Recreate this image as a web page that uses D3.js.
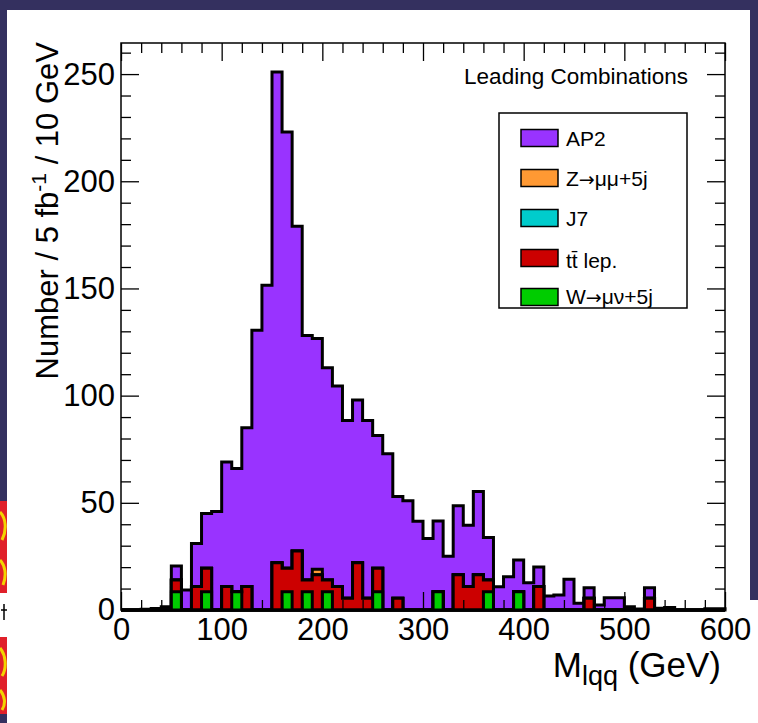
<!DOCTYPE html>
<html><head><meta charset="utf-8">
<script src="https://cdn.jsdelivr.net/npm/d3@7"></script>
<style>
body{margin:0;background:#34305f;}
svg{display:block;}
text{font-family:"Liberation Sans",Arial,Helvetica,sans-serif;fill:#000;}
</style>
</head><body>
<svg id="c" width="758" height="723"></svg>
<script>
// ---- data (10 GeV bins from 0 to 600 GeV) ----
const binLow = d3.range(0, 600, 10);
const ap2 = [0,0,0.3,0.7,1.5,6.5,9.3,20,25.5,46,
             58,57.5,74,130.5,151.5,229,203.5,151.5,114,107.6,
             99,93.5,82.9,76,82.9,61.9,72.9,47.5,51,41.4,
             33.3,33,25.1,32.1,28.5,38.8,19.8,10.8,15.5,14.8,
             12.7,9.1,6.5,7,14.3,3.1,4.9,2.3,5.7,5.7,
             1.5,0.5,4.9,0.8,1.2,0,0,0,0.6,0.6];
const zmumu = [0,0,0,0,0,0,0,0,0,0, 0,0,0,0,0,0,0,0,0,2.5,
               0,0,0,0,0,0,0,0,0,0, 0,0,0,0,0,0,0,0,0,0,
               0,0,0,0,0,0,0,0,0,0, 0,0,0,0,0,0,0,0,0,0];
const j7 =    [0,0,0,0,0,0,0,0,0,0, 0,0,0,0,0,0,0,0,0,0,
               0,0,0,0,0,0,0,0,0,0, 0,0,0,0,0,0,0,0,0,0,
               0,0,0,0,0,0,0,0,0,0, 0,0,0,0,0,0,0,0,0,0];
const ttlep = [0,0,0,0,0,5.5,0,11,11,0,
               11,0,11,0,0,22,11,27.5,5.5,16.5,
               5.5,11,5.5,22,5.5,11,0,5.5,0,0,
               0,0,0,16.5,11,16.5,5.5,0,0,0,
               0,11,0,0,0,0,5.5,0,0,0,
               0,0,5.5,0,0,0,0,0,0,0];
const wmunu = [0,0,0,0,0,8.5,0,0,8.5,0,
               0,8.5,0,0,0,0,8.5,0,8.5,0,
               8.5,0,0,0,0,8.5,0,0,0,0,
               0,8.5,0,0,0,0,8.5,0,0,8.5,
               0,0,0,0,0,0,0,0,0,0,
               0,0,0,0,0,0,0,0,0,0];
// legend labels: [before arrow, arrow, after arrow]
const seriesLabels = [["AP2","",""],["Z","\u2192","\u03BC\u03BC+5j"],["J7","",""],["tt\u0304 lep.","",""],["W","\u2192","\u03BC\u03BD+5j"]];
const seriesColors = ["#9933ff","#ff9933","#00cccc","#cc0000","#00cc00"];
const xTicksMajor = [0,100,200,300,400,500,600];
const yTicksMajor = [0,50,100,150,200,250];

// ---- layout ----
const svg = d3.select("#c");
svg.append("rect").attr("x",7).attr("y",10).attr("width",751).attr("height",713).attr("fill","#fff");
svg.append("rect").attr("x",750).attr("y",0).attr("width",8).attr("height",600).attr("fill","#34305f");
// slide emblem fragment on the left edge
const emb = svg.append("g");
emb.append("rect").attr("x",0).attr("y",501).attr("width",7).attr("height",92).attr("fill","#e0202a");
emb.append("rect").attr("x",0).attr("y",637).attr("width",7).attr("height",77).attr("fill","#e0202a");
emb.append("path").attr("d","M0,512 C6,518 7,530 2,540 M0,560 C5,565 7,575 3,585 M0,648 C6,655 7,668 2,676 M0,690 C5,696 6,704 2,710")
  .attr("stroke","#f2d400").attr("stroke-width",3).attr("fill","none");
emb.append("rect").attr("x",0).attr("y",593).attr("width",7).attr("height",44).attr("fill","#fff");
emb.append("path").attr("d","M4,604 L4,620 M1,610 L7,610").attr("stroke","#000").attr("stroke-width",1.5);

const x = d3.scaleLinear().domain([0,600]).range([121,725]);
const y = d3.scaleLinear().domain([0,264.5]).range([610,43]);

// stacked cumulative layers (ROOT THStack style)
const rows = binLow.map((b,i)=>({b, W:wmunu[i], T:ttlep[i], J:j7[i], Z:zmumu[i], A:ap2[i]}));
const keys = ["W","T","J","Z","A"];
const stack = d3.stack().keys(keys)(rows);
const colorOf = {A:seriesColors[0], Z:seriesColors[1], J:seriesColors[2], T:seriesColors[3], W:seriesColors[4]};
const line = d3.line().x(d=>x(d[0])).y(d=>y(d[1]));
const hist = svg.append("g");
for (let k = stack.length-1; k>=0; k--) {
  const layer = stack[k];
  const pts = [[0,0]];
  layer.forEach((d,i)=>{ pts.push([binLow[i], d[1]]); pts.push([binLow[i]+10, d[1]]); });
  pts.push([600,0]);
  hist.append("path").attr("d", line(pts)+"Z")
    .attr("fill", colorOf[layer.key]).attr("stroke","#000").attr("stroke-width",3)
    .attr("stroke-linejoin","miter");
}

// axes
const fs = 31;
function style(g){ g.select(".domain").remove(); g.selectAll("line").attr("stroke","#000").attr("stroke-width",1.3); }
const xMinor = d3.range(0,601,20).filter(v=>v%100!==0);
const yMinor = d3.range(0,261,10).filter(v=>v%50!==0);
svg.append("g").attr("transform",`translate(0,${y(0)})`)
  .call(d3.axisBottom(x).tickValues(xTicksMajor).tickSize(-18).tickPadding(8).tickFormat(d3.format("d")))
  .call(style).call(g=>g.selectAll("text").attr("font-size",fs).attr("font-family","Liberation Sans, Arial"));
svg.append("g").attr("transform",`translate(0,${y(0)})`)
  .call(d3.axisBottom(x).tickValues(xMinor).tickSize(-10).tickFormat("")).call(style);
svg.append("g").attr("transform",`translate(0,${y.range()[1]})`)
  .call(d3.axisTop(x).tickValues(xTicksMajor).tickSize(-18).tickFormat("")).call(style);
svg.append("g").attr("transform",`translate(0,${y.range()[1]})`)
  .call(d3.axisTop(x).tickValues(xMinor).tickSize(-10).tickFormat("")).call(style);
svg.append("g").attr("transform",`translate(${x(0)},0)`)
  .call(d3.axisLeft(y).tickValues(yTicksMajor).tickSize(-18).tickPadding(6).tickFormat(d3.format("d")))
  .call(style).call(g=>g.selectAll("text").attr("font-size",fs).attr("font-family","Liberation Sans, Arial"));
svg.append("g").attr("transform",`translate(${x(0)},0)`)
  .call(d3.axisLeft(y).tickValues(yMinor).tickSize(-10).tickFormat("")).call(style);
svg.append("g").attr("transform",`translate(${x(600)},0)`)
  .call(d3.axisRight(y).tickValues(yTicksMajor).tickSize(-18).tickFormat("")).call(style);
svg.append("g").attr("transform",`translate(${x(600)},0)`)
  .call(d3.axisRight(y).tickValues(yMinor).tickSize(-10).tickFormat("")).call(style);

// frame
svg.append("rect").attr("x",x(0)).attr("y",y.range()[1]).attr("width",x(600)-x(0)).attr("height",y(0)-y.range()[1])
  .attr("fill","none").attr("stroke","#000").attr("stroke-width",1.5);

// titles
const xt = svg.append("text").attr("x",721).attr("y",677).attr("text-anchor","end").attr("font-size",35);
xt.append("tspan").text("M");
xt.append("tspan").attr("font-size",27).attr("dy",8).text("lqq");
xt.append("tspan").attr("dy",-8).text(" (GeV)");
const yt = svg.append("text").attr("transform","translate(58,42) rotate(-90)").attr("text-anchor","end").attr("font-size",31);
yt.append("tspan").text("Number / 5 fb");
yt.append("tspan").attr("font-size",21).attr("dy",-12).text("-1");
yt.append("tspan").attr("dy",12).text(" / 10 GeV");

svg.append("text").attr("x",688).attr("y",84).attr("text-anchor","end").attr("font-size",22.5).text("Leading Combinations");

// legend
const lg = svg.append("g");
lg.append("rect").attr("x",499).attr("y",113).attr("width",188).attr("height",195).attr("fill","#fff").attr("stroke","#000").attr("stroke-width",1.5);
const cys = [138,178,218,258,297];
const tys = [8,8,8,10,7];
seriesLabels.forEach((n,i)=>{
  lg.append("rect").attr("x",521).attr("y",cys[i]-8.5).attr("width",37).attr("height",17)
    .attr("fill",seriesColors[i]).attr("stroke","#000").attr("stroke-width",1.5);
  const t = lg.append("text").attr("x",566).attr("y",cys[i]+tys[i]).attr("font-size",21);
  t.append("tspan").text(n[0]);
  if (n[1]) {
    t.append("tspan").attr("font-family","DejaVu Sans").attr("font-size",19).text(n[1]);
    t.append("tspan").text(n[2]);
  }
});
</script>
</body></html>
